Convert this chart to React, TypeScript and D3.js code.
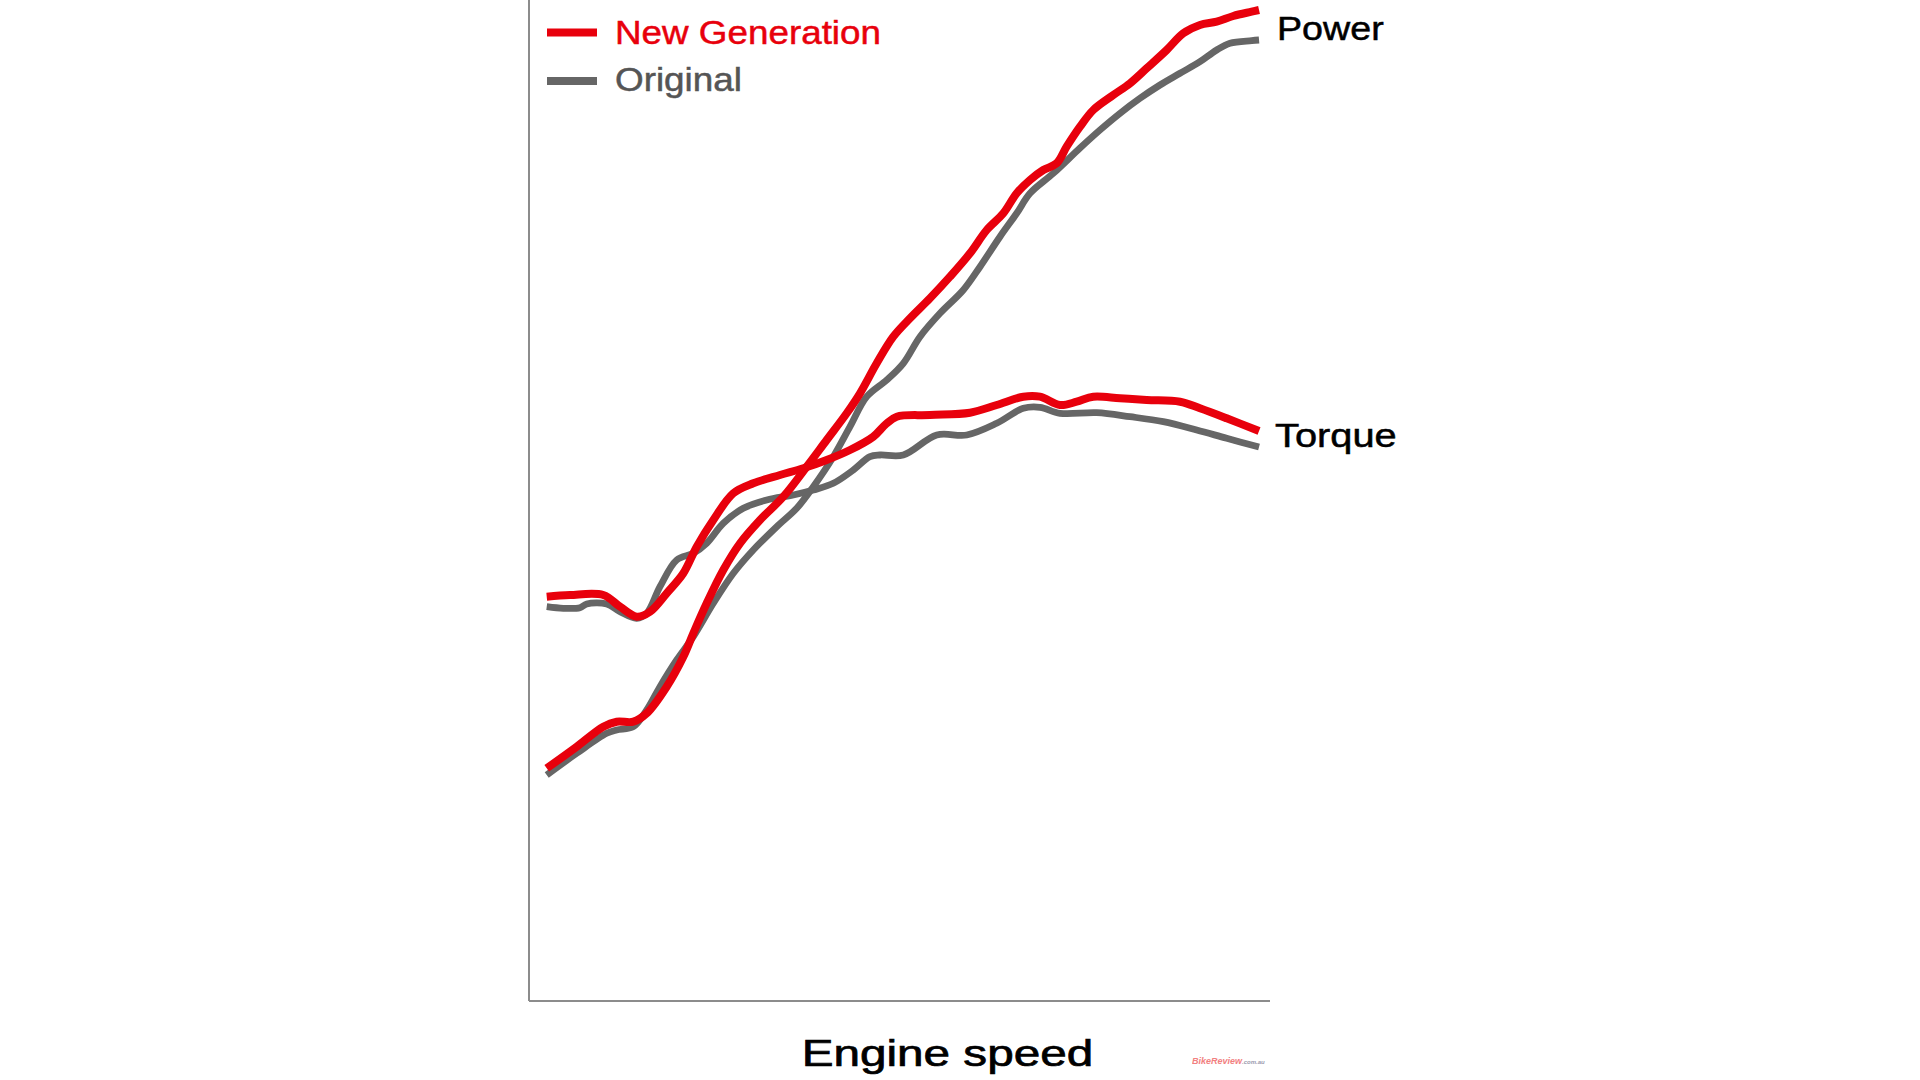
import React from "react";
import * as d3 from "d3";

// Engine speed (0–100 % of shown range) and output (0–100 % of plot height)
const powerNewX = [1.98, 6.01, 9.58, 11.38, 13.62, 15.42, 18.10, 20.34, 21.68, 23.48, 25.71, 27.96, 30.65, 33.78, 36.92, 39.61, 42.30, 44.09, 46.33, 48.56, 50.81, 53.49, 56.18, 58.87, 61.12, 63.35, 65.15, 66.94, 68.72, 70.52, 71.86, 73.66, 75.44, 78.13, 80.38, 82.62, 85.31, 87.54, 89.78, 92.03, 94.26, 96.73, 97.72];
const powerNewY = [23.57, 25.73, 27.73, 28.23, 28.23, 29.07, 31.73, 34.73, 37.07, 40.07, 43.4, 46.07, 48.4, 50.73, 53.73, 56.4, 59.07, 61.07, 64.07, 66.73, 68.57, 70.57, 72.73, 75.07, 77.4, 79.07, 81.07, 82.4, 83.4, 84.07, 85.73, 87.73, 89.4, 90.9, 92.07, 93.57, 95.4, 97.07, 97.9, 98.23, 98.8, 99.23, 99.4];

const powerOrigX = [1.98, 6.01, 10.04, 11.38, 13.62, 15.42, 17.20, 19.45, 21.68, 24.37, 27.06, 29.74, 32.89, 35.58, 37.81, 40.50, 42.74, 44.99, 47.68, 49.91, 52.15, 54.84, 57.97, 60.22, 62.90, 65.15, 66.94, 70.07, 73.66, 76.34, 79.03, 81.72, 84.41, 87.10, 89.78, 92.03, 93.82, 96.73, 97.72];
const powerOrigY = [22.9, 25.07, 27.07, 27.4, 27.73, 29.4, 31.73, 34.4, 36.73, 40.07, 43.07, 45.4, 47.73, 49.57, 51.73, 54.73, 57.73, 60.73, 62.4, 64.07, 66.73, 69.07, 71.4, 73.73, 76.73, 79.07, 81.07, 83.07, 85.6, 87.4, 89.07, 90.57, 91.9, 93.07, 94.23, 95.4, 96.07, 96.33, 96.4];

const torqueNewX = [1.98, 5.11, 9.58, 11.83, 14.07, 15.86, 18.10, 20.34, 22.14, 24.37, 27.06, 29.74, 33.33, 36.46, 39.61, 42.74, 45.87, 47.58, 49.02, 53.49, 58.87, 62.46, 66.04, 68.28, 70.97, 73.21, 75.44, 79.03, 82.62, 87.10, 89.78, 93.37, 97.72];
const torqueNewY = [40.73, 40.9, 40.9, 39.73, 38.73, 39.23, 41.07, 43.07, 45.73, 48.4, 51.07, 52.07, 52.9, 53.57, 54.4, 55.4, 56.73, 58.0, 58.73, 58.9, 59.13, 59.9, 60.73, 60.73, 59.9, 60.23, 60.73, 60.57, 60.4, 60.23, 59.57, 58.57, 57.3];

const torqueOrigX = [1.98, 4.21, 6.45, 7.35, 10.04, 11.83, 14.07, 15.42, 17.20, 19.45, 21.68, 23.48, 25.71, 28.40, 31.55, 35.12, 37.81, 40.50, 43.19, 45.43, 46.77, 49.91, 54.40, 58.43, 62.46, 66.04, 68.28, 70.97, 75.90, 80.38, 84.85, 89.34, 93.37, 97.72];
const torqueOrigY = [39.73, 39.57, 39.63, 40.0, 40.0, 39.23, 38.57, 39.07, 41.73, 44.4, 45.07, 46.07, 48.07, 49.57, 50.4, 50.9, 51.4, 52.07, 53.4, 54.73, 54.9, 54.9, 56.9, 56.9, 58.07, 59.57, 59.67, 59.07, 59.13, 58.73, 58.23, 57.4, 56.57, 55.7];

const seriesNames = ["New Generation", "Original"];
const curveLabels = ["Power", "Torque"];
const xAxisTitle = "Engine speed";

const RED = "#e8000c";
const GRAY = "#666666";

const plotLeft = 529;
const plotRight = 1270;
const plotBottom = 1001;

const x = d3.scaleLinear().domain([0, 100]).range([532, 1276]);
const y = d3.scaleLinear().domain([0, 100]).range([1004, 4]);

const line = d3
  .line<[number, number]>()
  .x((d) => x(d[0]))
  .y((d) => y(d[1]))
  .curve(d3.curveCatmullRom.alpha(0.5));

const zip = (a: number[], b: number[]) => a.map((v, i) => [v, b[i]] as [number, number]);

const FONT = "'Liberation Sans', Arial, sans-serif";

export default function App() {
  const lines = [
    { d: zip(powerOrigX, powerOrigY), c: GRAY, w: 6.8 },
    { d: zip(torqueOrigX, torqueOrigY), c: GRAY, w: 6.8 },
    { d: zip(powerNewX, powerNewY), c: RED, w: 8 },
    { d: zip(torqueNewX, torqueNewY), c: RED, w: 8 },
  ];
  const bold = (c: string, w = 0.5) => ({ stroke: c, strokeWidth: w, paintOrder: "stroke" as const });
  return (
    <div style={{ position: "absolute", left: 0, top: 0, width: 1920, height: 1080, background: "#fff" }}>
      <svg width={1920} height={1080} style={{ display: "block" }}>
        <rect x={0} y={0} width={1920} height={1080} fill="#fff" />
        {/* axes */}
        <line x1={plotLeft} y1={0} x2={plotLeft} y2={plotBottom} stroke="#8c8c8c" strokeWidth={2} />
        <line x1={plotLeft} y1={plotBottom} x2={plotRight} y2={plotBottom} stroke="#8c8c8c" strokeWidth={2} />

        {lines.map((l, i) => (
          <path key={i} d={line(l.d) || ""} fill="none" stroke={l.c} strokeWidth={l.w} strokeLinejoin="round" strokeLinecap="butt" />
        ))}

        {/* legend */}
        <line x1={547} y1={32.5} x2={597} y2={32.5} stroke={RED} strokeWidth={8} />
        <line x1={547} y1={81} x2={597} y2={81} stroke={GRAY} strokeWidth={8} />
        <text x={615} y={44} fontFamily={FONT} fontSize={33.5} fill={RED} {...bold(RED)} textLength={266} lengthAdjust="spacingAndGlyphs">
          {seriesNames[0]}
        </text>
        <text x={615} y={91} fontFamily={FONT} fontSize={34} fill="#555" {...bold("#555")} textLength={127} lengthAdjust="spacingAndGlyphs">
          {seriesNames[1]}
        </text>

        {/* curve labels */}
        <text x={1277} y={40} fontFamily={FONT} fontSize={33} fill="#000" {...bold("#000")} textLength={106.7} lengthAdjust="spacingAndGlyphs">
          {curveLabels[0]}
        </text>
        <text x={1275} y={446.7} fontFamily={FONT} fontSize={32.5} fill="#000" {...bold("#000")} textLength={121.7} lengthAdjust="spacingAndGlyphs">
          {curveLabels[1]}
        </text>

        {/* x axis title */}
        <text x={801.7} y={1066} fontFamily={FONT} fontSize={37} fill="#000" {...bold("#000", 0.7)} textLength={291.6} lengthAdjust="spacingAndGlyphs">
          {xAxisTitle}
        </text>

        {/* watermark */}
        <text x={1192} y={1064} fontFamily={FONT} fontSize={9} fontStyle="italic" fontWeight="bold" fill="#f06a6a" opacity={0.85}>
          <tspan>BikeReview</tspan>
          <tspan fill="#8a8aa0" fontSize={6}>.com.au</tspan>
        </text>
      </svg>
    </div>
  );
}
